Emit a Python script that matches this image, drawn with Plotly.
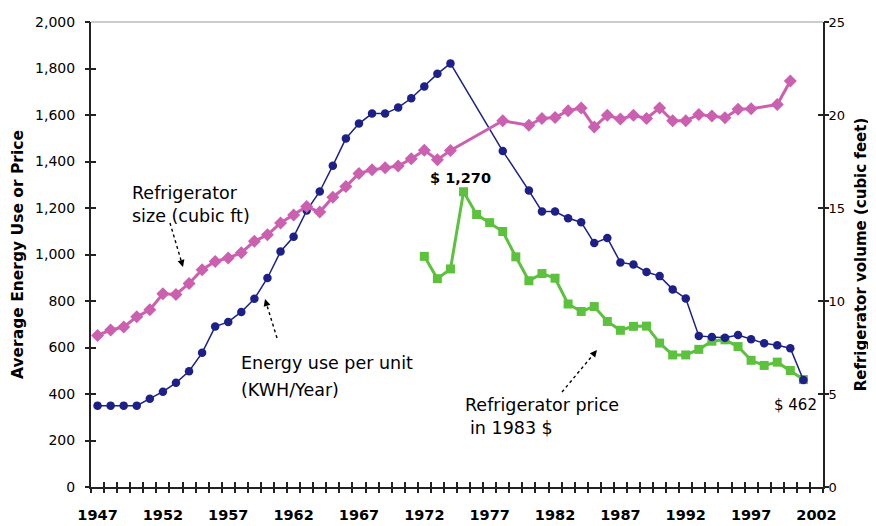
import math
import plotly.graph_objects as go

# ---------------- data ----------------
years_energy = list(range(1947, 1975)) + [1978] + list(range(1980, 2002))
energy_kwh = [350, 350, 350, 350, 380, 410, 448, 498, 577, 690, 710, 753, 810, 899,
              1013, 1076, 1189, 1271, 1382, 1499, 1563, 1606, 1606, 1632, 1672, 1723, 1777, 1822,
              1445,
              1275, 1185, 1185, 1156, 1139, 1049, 1071, 966, 957, 925, 907, 850, 811,
              650, 645, 642, 654, 635, 618, 610, 597, 460]

years_size = list(range(1947, 1975)) + [1978] + list(range(1980, 1998)) + [1999, 2000]
size_cuft = [8.15, 8.44, 8.60, 9.15, 9.53, 10.39, 10.35, 10.94, 11.68, 12.13, 12.31, 12.60,
             13.21, 13.56, 14.19, 14.63, 15.08, 14.78, 15.58, 16.15, 16.86, 17.05, 17.16,
             17.26, 17.65, 18.10, 17.60, 18.09,
             19.69,
             19.45, 19.81, 19.86, 20.23, 20.38, 19.36, 19.99, 19.78, 19.99, 19.81, 20.38,
             19.69, 19.69, 20.03, 19.94, 19.85, 20.31, 20.34,
             20.56, 21.83]

years_price = list(range(1972, 2002))
price_1983 = [992, 896, 938, 1270, 1172, 1137, 1099, 990, 887, 918, 898, 787, 755, 776,
              712, 674, 691, 692, 619, 568, 568, 592, 627, 633, 604, 545, 523, 537, 501, 462]

x_label_years = list(range(1947, 2003, 5))
x_boundaries = [y - 0.5 for y in range(1947, 2004)]
left_ticks = list(range(0, 2001, 200))
right_ticks = list(range(0, 26, 5))

# ---------------- styling ----------------
FONT = "DejaVu Sans"
AX = "#222222"
BLUE = "#1c2088"
PINK = "#cc60b0"
GREEN = "#5cc13d"

PAGE_OFF = 8                      # default body margin of the html page
W, H = 876 - PAGE_OFF, 526 - PAGE_OFF
ML, MR, MT, MB = 91 - PAGE_OFF, 53, 22 - PAGE_OFF, 39
PW = W - ML - MR
PH = H - MT - MB
XR = [1946.5, 2002.5]


def xd(px):
    """page pixel x -> data x"""
    return XR[0] + (px - PAGE_OFF - ML) * (XR[1] - XR[0]) / PW


def yd(py):
    """page pixel y -> left-axis data y"""
    return (H - MB - (py - PAGE_OFF)) * 2000 / PH


fig = go.Figure()

fig.add_trace(go.Scatter(x=years_size, y=size_cuft, yaxis="y2", mode="lines+markers",
                         line=dict(color=PINK, width=3),
                         marker=dict(symbol="diamond", size=10, color=PINK),
                         name="Refrigerator size", showlegend=False))
fig.add_trace(go.Scatter(x=years_price, y=price_1983, mode="lines+markers",
                         line=dict(color=GREEN, width=3),
                         marker=dict(symbol="square", size=9, color=GREEN),
                         name="Refrigerator price", showlegend=False))
fig.add_trace(go.Scatter(x=years_energy, y=energy_kwh, mode="lines+markers",
                         line=dict(color=BLUE, width=1.5),
                         marker=dict(symbol="circle", size=8.5, color=BLUE),
                         name="Energy use", showlegend=False))
# dummy traces so the tick-only overlay axes get drawn
for xa, ya in [("x2", "y"), ("x3", "y"), ("x", "y3"), ("x", "y4")]:
    fig.add_trace(go.Scatter(x=[None], y=[None], xaxis=xa, yaxis=ya,
                             showlegend=False, hoverinfo="skip"))

tick_common = dict(showgrid=False, zeroline=False, automargin=False)

shapes = [dict(type="line", xref="paper", yref="paper", x0=0, x1=1, y0=1, y1=1,
               line=dict(color="#9a9a9a", width=1.2))]

fig.update_layout(
    width=W, height=H,
    margin=dict(l=ML, r=MR, t=MT, b=MB, pad=0),
    paper_bgcolor="white", plot_bgcolor="white",
    font=dict(family=FONT, color="black"),
    xaxis=dict(range=XR, tickmode="array", tickvals=x_label_years,
               ticktext=[str(y) for y in x_label_years], ticks="",
               showline=True, linecolor=AX, linewidth=2,
               tickfont=dict(family=FONT, size=14.5, color="black", weight="bold"),
               ticklabelstandoff=14, **tick_common),
    xaxis2=dict(range=XR, overlaying="x", anchor="y", side="bottom",
                tickmode="array", tickvals=x_boundaries, ticks="inside",
                ticklen=5, tickwidth=1.5, tickcolor=AX,
                showticklabels=False, showline=False, **tick_common),
    xaxis3=dict(range=XR, overlaying="x", anchor="y", side="bottom",
                tickmode="array", tickvals=x_boundaries, ticks="outside",
                ticklen=5, tickwidth=1.5, tickcolor=AX,
                showticklabels=False, showline=False, **tick_common),
    yaxis=dict(range=[0, 2000], tickmode="array", tickvals=left_ticks,
               tickformat=",", ticks="inside", ticklen=5, tickwidth=1.5, tickcolor=AX,
               showline=True, linecolor=AX, linewidth=2,
               tickfont=dict(family=FONT, size=14, color="black"),
               ticklabelstandoff=11,
               title=dict(text="Average Energy Use or Price", standoff=8,
                          font=dict(family=FONT, size=15.5, color="black", weight="bold")),
               **tick_common),
    yaxis3=dict(range=[0, 2000], overlaying="y", anchor="x", side="left",
                tickmode="array", tickvals=left_ticks, ticks="outside",
                ticklen=5, tickwidth=1.5, tickcolor=AX,
                showticklabels=False, showline=False, **tick_common),
    yaxis2=dict(range=[0, 25], overlaying="y", anchor="x", side="right",
                tickmode="array", tickvals=right_ticks, ticks="inside",
                ticklen=5, tickwidth=1.5, tickcolor=AX,
                showline=True, linecolor=AX, linewidth=2,
                tickfont=dict(family=FONT, size=13, color="black"),
                ticklabelstandoff=1,
                title=dict(text="Refrigerator volume (cubic feet)", standoff=11,
                           font=dict(family=FONT, size=15, color="black", weight="bold")),
                **tick_common),
    yaxis4=dict(range=[0, 25], overlaying="y", anchor="x", side="right",
                tickmode="array", tickvals=right_ticks, ticks="outside",
                ticklen=5, tickwidth=1.5, tickcolor=AX,
                showticklabels=False, showline=False, **tick_common),
)

# text labels (left edge / vertical centre in page pixels)
labels = [
    ("Refrigerator", 130, 192.5),
    ("size (cubic ft)", 130, 215.5),
    ("Energy use per unit", 239, 363),
    ("(KWH/Year)", 239, 389.5),
    ("Refrigerator price", 463, 404.5),
    ("in 1983 $", 468, 427.5),
]
for txt, px, py in labels:
    fig.add_annotation(x=xd(px), y=yd(py), xref="x", yref="y", text=txt,
                       showarrow=False, xanchor="left", yanchor="middle",
                       font=dict(family=FONT, size=17.5, color="black"))

fig.add_annotation(x=years_price[3], y=price_1983[3], xref="x", yref="y",
                   text="$ 1,270", showarrow=False, xanchor="center", yanchor="middle",
                   xshift=-3, yshift=14,
                   font=dict(family=FONT, size=14.5, color="black", weight="bold"))
fig.add_annotation(x=years_price[-1], y=price_1983[-1], xref="x", yref="y",
                   text="$ 462", showarrow=False, xanchor="center", yanchor="middle",
                   xshift=-8, yshift=-25,
                   font=dict(family=FONT, size=15, color="black"))

# pointer arrows: dashed shaft (shape) + short solid head (annotation)
arrows = [((183, 267), (170, 223)),
          ((265, 299), (277, 338)),
          ((597, 350), (562, 392))]
for (hx, hy), (tx, ty) in arrows:
    L = math.hypot(tx - hx, ty - hy)
    ux, uy = (tx - hx) / L, (ty - hy) / L
    shapes.append(dict(type="line", xref="x", yref="y",
                       x0=xd(tx), y0=yd(ty), x1=xd(hx + ux * 6), y1=yd(hy + uy * 6),
                       line=dict(color="black", width=1.4, dash="dot")))
    fig.add_annotation(x=xd(hx), y=yd(hy), xref="x", yref="y", text="",
                       showarrow=True, ax=ux * 8, ay=uy * 8,
                       arrowhead=2, arrowsize=1, arrowwidth=1.4, arrowcolor="black")

fig.update_layout(shapes=shapes)

fig.write_html("out.html")
